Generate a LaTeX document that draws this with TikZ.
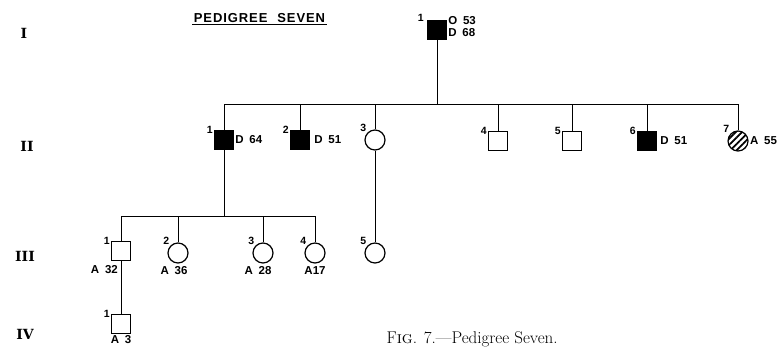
\documentclass[tikz,border=0pt]{standalone}
\usepackage{fontspec}
\usepackage{tikz}
\usetikzlibrary{patterns.meta}
\newfontfamily\labelfont[WordSpace=1.8]{Liberation Sans}
\newfontfamily\titlefont[LetterSpace=7,WordSpace=2.2]{Liberation Sans}
\newfontfamily\genfont{DejaVu Serif}

\begin{document}
\begin{tikzpicture}[
  x=1pt, y=-1pt,
  male/.style={draw, rectangle, minimum size=19pt, inner sep=0pt, line width=1.2pt},
  female/.style={draw, circle, minimum size=20pt, inner sep=0pt, line width=1.2pt},
  affected/.style={fill=black},
  hatched/.style={pattern={Lines[angle=45,distance=4.5pt,line width=1.8pt]}},
  num/.style={font=\labelfont\bfseries\fontsize{10.5}{10.5}\selectfont, inner sep=1pt},
  info/.style={font=\labelfont\bfseries\fontsize{11.5}{12}\selectfont, inner sep=1pt},
  gen/.style={font=\genfont\bfseries\fontsize{14}{14}\selectfont},
  descent/.style={line width=0.9pt}
]
\useasboundingbox (0,0) rectangle (783,346);

%% Title and caption
\node[font=\titlefont\bfseries\fontsize{13}{13}\selectfont, inner sep=1.5pt] (title) at (259.5,18) {PEDIGREE SEVEN};
\draw[line width=1.3pt] (title.south west) -- (title.south east);
\node[font=\fontsize{17}{17}\selectfont, anchor=base west] (caption) at (383,343)
  {F\textsc{ig}. 7.---Pedigree Seven.};

%% Generation numerals
\node[gen] (g1) at (24,33) {I};
\node[gen] (g2) at (27,146) {II};
\node[gen] (g3) at (25,256) {III};
\node[gen] (g4) at (25,334) {IV};

%% Generation I
\node[male, affected, label={[num, anchor=east, xshift=-2pt, yshift=2pt]north west:1},
      label={[info, align=left, anchor=west, yshift=3pt]east:O 53\\D 68}] (I1) at (437,30) {};

%% Generation II
\node[male, affected, label={[num, anchor=east]north west:1},
      label={[info, anchor=west]east:D 64}] (II1) at (224,140) {};
\node[male, affected, label={[num, anchor=east]north west:2},
      label={[info, anchor=west, xshift=3pt]east:D 51}] (II2) at (300,140) {};
\node[female, label={[num, anchor=south east]north west:3}] (II3) at (375,140) {};
\node[male, label={[num, anchor=east]north west:4}] (II4) at (498,141) {};
\node[male, label={[num, anchor=east]north west:5}] (II5) at (572,141) {};
\node[male, affected, label={[num, anchor=east]north west:6},
      label={[info, anchor=west, xshift=2pt]east:D 51}] (II6) at (647,141) {};
\node[female, hatched, label={[num, anchor=south east]north west:7},
      label={[info, anchor=west]east:A 55}] (II7) at (738,141) {};

%% Generation III
\node[male, label={[num, anchor=east]north west:1},
      label={[info, anchor=north east, xshift=-2pt, yshift=-3pt]south:A 32}] (III1) at (121,251) {};
\node[female, label={[num, anchor=south east]north west:2},
      label={[info, xshift=-4pt, yshift=-2pt]below:A 36}] (III2) at (178,253) {};
\node[female, label={[num, anchor=south east]north west:3},
      label={[info, xshift=-5pt, yshift=-2pt]below:A 28}] (III3) at (263,253) {};
\node[female, label={[num, anchor=south east]north west:4},
      label={[info, yshift=-2pt]below:A17}] (III4) at (315,253) {};
\node[female, label={[num, anchor=south east]north west:5}] (III5) at (375,253) {};

%% Generation IV
\node[male, label={[num, anchor=east]north west:1},
      label={[info, yshift=-0.5pt]below:A 3}] (IV1) at (121,324) {};

%% Sibship lines
\coordinate (sibII) at (437,104);
\coordinate (sibIII) at (224,216);

\draw[descent] (I1) -- (I1 |- sibII);
\draw[descent] (II1 |- sibII) -- (II7 |- sibII);
\foreach \kid in {II1,II2,II3,II4,II5,II6,II7}
  \draw[descent] (\kid) -- (\kid |- sibII);

\draw[descent] (II1) -- (II1 |- sibIII);
\draw[descent] (III1 |- sibIII) -- (III4 |- sibIII);
\foreach \kid in {III1,III2,III3,III4}
  \draw[descent] (\kid) -- (\kid |- sibIII);

\draw[descent] (II3) -- (III5);
\draw[descent] (III1) -- (IV1);

\end{tikzpicture}
\end{document}
